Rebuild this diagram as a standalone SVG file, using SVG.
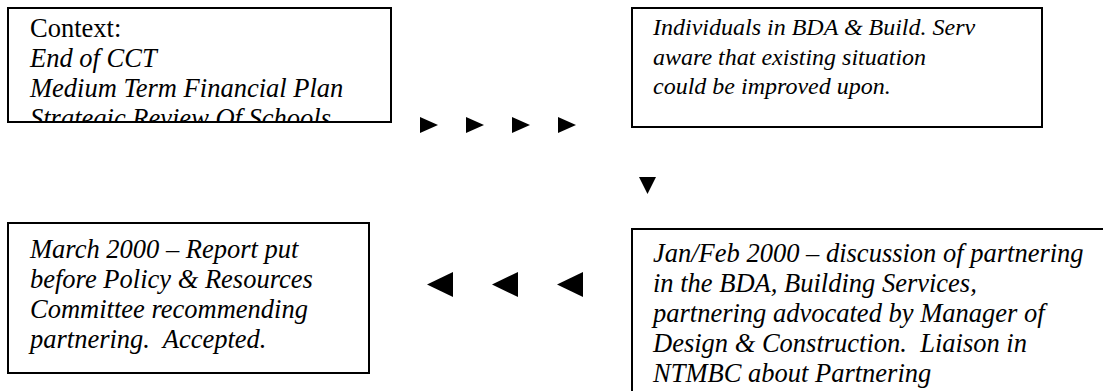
<svg xmlns="http://www.w3.org/2000/svg" width="1103" height="391" viewBox="0 0 1103 391">
<style>
.box{fill:#fff;stroke:#000;stroke-width:2}
text{font-family:'Liberation Serif','Times New Roman',serif;font-size:26.5px;fill:#000}
.i{font-style:italic}
.s{font-size:24px}
.arr{fill:#000}
</style>
<defs>
<clipPath id="c1"><rect x="9" y="9" width="381" height="112"/></clipPath>
<clipPath id="c4"><rect x="633" y="230" width="470" height="161"/></clipPath>
</defs>
<rect width="1103" height="391" fill="#fff"/>
<g id="connectors">
<polygon class="arr" points="420,117 438,125 420,133"/>
<polygon class="arr" points="466,117 484,125 466,133"/>
<polygon class="arr" points="512,117 530,125 512,133"/>
<polygon class="arr" points="558,117 576,125 558,133"/>
<polygon class="arr" points="639,177 656,177 647.5,194"/>
<polygon class="arr" points="583,272 583,297 557,284.5"/>
<polygon class="arr" points="518,272 518,297 492,284.5"/>
<polygon class="arr" points="453,272 453,297 427,284.5"/>
</g>
<g id="context">
<rect class="box" x="8" y="8" width="383" height="114"/>
<g clip-path="url(#c1)">
<text x="30" y="37">Context:</text>
<text class="i" x="30" y="67">End of CCT</text>
<text class="i" x="30" y="97">Medium Term Financial Plan</text>
<text class="i" x="30" y="127">Strategic Review Of Schools</text>
</g>
</g>
<g id="individuals">
<rect class="box" x="632" y="8" width="410" height="119"/>
<text class="i s" x="653" y="35">Individuals in BDA &amp; Build. Serv</text>
<text class="i s" x="653" y="64.5">aware that existing situation</text>
<text class="i s" x="653" y="94">could be improved upon.</text>
</g>
<g id="march">
<rect class="box" x="8" y="223" width="361" height="150"/>
<text class="i" x="30" y="258">March 2000 – Report put</text>
<text class="i" x="30" y="288">before Policy &amp; Resources</text>
<text class="i" x="30" y="318">Committee recommending</text>
<text class="i" x="30" y="348">partnering.&#160; Accepted.</text>
</g>
<g id="janfeb">
<rect class="box" x="632" y="229" width="480" height="180"/>
<g clip-path="url(#c4)">
<text class="i" x="653" y="262">Jan/Feb 2000 – discussion of partnering</text>
<text class="i" x="653" y="292">in the BDA, Building Services,</text>
<text class="i" x="653" y="322">partnering advocated by Manager of</text>
<text class="i" x="653" y="352">Design &amp; Construction.&#160; Liaison in</text>
<text class="i" x="653" y="382">NTMBC about Partnering</text>
</g>
</g>
</svg>
